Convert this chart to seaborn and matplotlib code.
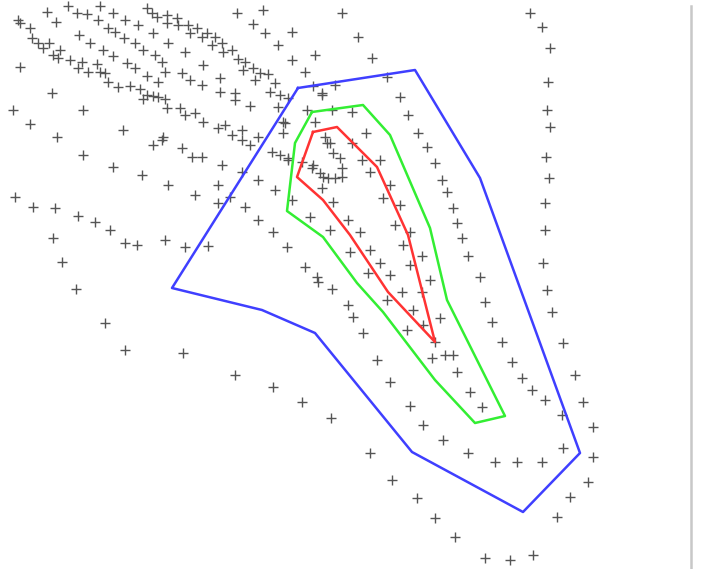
import matplotlib
matplotlib.use("Agg")
import matplotlib.pyplot as plt
import seaborn as sns
import pandas as pd

# scattered '+' samples (x, y in picture units, y grows downward)
pts_x = [68, 100, 47, 77, 87, 113, 147, 152, 167, 18, 20, 56, 98, 125, 157, 138, 167, 30, 108, 115,
         79, 153, 32, 38, 49, 90, 124, 135, 168, 43, 60, 103, 143, 53, 155, 58, 70, 113, 162, 82,
         97, 127, 20, 78, 88, 100, 105, 135, 147, 165, 108, 118, 130, 140, 158, 147, 153, 158, 165, 143,
         167, 52, 13, 83, 30, 123, 57, 163,
         237, 263, 342, 177, 178, 188, 197, 190, 202, 207, 215, 253, 265, 292, 212, 222, 223, 232, 278, 185,
         238, 245, 203, 292, 315, 182, 243, 253, 260, 268, 305, 190, 202, 220, 255, 275, 313, 335, 220, 235,
         235, 270, 280, 322, 250, 180, 185, 195, 288, 278, 307, 203, 218, 225, 242, 258, 285,
         83, 113, 142, 153, 162, 168, 15, 33, 55, 78, 95, 110, 53, 125, 137, 165, 62,
         232, 242, 250, 272, 280, 288, 182, 192, 202, 222, 242, 258, 218, 195, 230, 275, 218, 245, 258, 273,
         287, 185, 208, 305, 317, 292, 310, 330,
         313, 320, 328, 335, 322, 333, 327, 333, 340,
         322, 400, 332, 352, 408, 283, 315, 366, 418, 283, 325, 330, 352, 427, 362, 380, 288, 302, 312, 342,
         435, 370, 323, 342, 442, 390, 447, 383, 400, 453, 348, 395, 457, 360, 410,
         358, 372, 387, 462, 468, 480,
         530, 542, 550, 548, 547, 550, 546, 549, 545, 545, 543, 547,
         403, 350, 370, 422, 380, 410, 318, 368, 390, 430, 332, 402, 422, 387, 348, 413, 353, 440, 407, 423,
         363, 435, 432, 445, 453, 377, 457,
         485, 552, 492, 502, 563, 512, 522, 575, 390, 532, 470, 545, 583, 410, 482, 562, 593, 423, 563, 593,
         443, 468, 495, 517, 542, 370, 588, 392, 570, 417, 557, 435, 455, 485, 510, 533,
         76, 105, 125, 183, 235, 273, 302, 331]
pts_y = [6, 6, 12, 13, 14, 13, 8, 13, 15, 20, 23, 22, 20, 20, 17, 25, 23, 28, 28, 32,
         35, 33, 38, 43, 43, 43, 38, 43, 43, 48, 50, 50, 50, 55, 55, 58, 60, 56, 62, 62,
         64, 63, 67, 68, 72, 72, 73, 68, 76, 72, 82, 87, 86, 89, 82, 95, 96, 97, 99, 99,
         108, 93, 110, 110, 124, 130, 137, 137,
         13, 10, 13, 18, 25, 25, 28, 33, 37, 33, 37, 24, 33, 32, 45, 43, 52, 50, 45, 52,
         59, 62, 65, 60, 55, 73, 70, 68, 73, 74, 72, 80, 85, 78, 80, 83, 86, 85, 92, 93,
         100, 92, 95, 95, 106, 108, 115, 113, 98, 107, 110, 122, 128, 125, 130, 137, 123,
         155, 167, 175, 145, 140, 185, 197, 207, 208, 216, 222, 230, 238, 243, 245, 240, 262,
         135, 140, 145, 152, 155, 160, 148, 157, 157, 165, 172, 180, 185, 195, 197, 190, 203, 207, 220, 232,
         247, 247, 246, 267, 277, 200, 217, 230,
         165, 173, 178, 178, 188, 202, 143, 153, 158,
         93, 97, 110, 112, 115, 122, 122, 133, 133, 133, 137, 143, 143, 147, 160, 160, 158, 162, 168, 168,
         163, 172, 177, 177, 180, 185, 192, 198, 205, 208, 220, 225, 223, 232, 232,
         37, 58, 77, 238, 256, 277,
         13, 27, 48, 82, 110, 127, 157, 178, 203, 230, 263, 290,
         245, 252, 250, 256, 263, 265, 282, 273, 275, 280, 289, 292, 292, 300, 305, 310, 317, 318, 330, 325,
         333, 342, 358, 355, 355, 360, 372,
         302, 312, 322, 342, 343, 362, 378, 375, 382, 390, 392, 400, 402, 406, 407, 415, 427, 425, 448, 457,
         440, 453, 462, 462, 462, 453, 482, 480, 497, 498, 517, 518, 537, 558, 560, 555,
         289, 323, 350, 353, 375, 387, 402, 418]

# contour polygons (outer to inner)
blue_x = [298, 415, 480, 580, 523, 412, 315, 262, 172]
blue_y = [88, 70, 178, 453, 512, 452, 333, 310, 288]
green_x = [312, 363, 390, 430, 447, 505, 475, 435, 383, 357, 323, 287, 295]
green_y = [112, 105, 135, 228, 300, 416, 423, 380, 312, 283, 237, 211, 143]
red_x = [313, 337, 352, 377, 408, 435, 388, 350, 323, 297]
red_y = [132, 127, 142, 167, 235, 342, 292, 235, 200, 177]

frame_x = 691

pts = pd.DataFrame({"x": pts_x, "y": pts_y})

fig = plt.figure(figsize=(7.01, 5.69), dpi=100)
ax = fig.add_axes([0, 0, 1, 1])

sns.scatterplot(data=pts, x="x", y="y", marker="+", s=45, color="#555555",
                linewidth=1.0, ax=ax, legend=False)

for px, py, col in [(blue_x, blue_y, "#3f3fff"), (green_x, green_y, "#33ee33"), (red_x, red_y, "#ff3333")]:
    poly = pd.DataFrame({"x": px + px[:1], "y": py + py[:1]})
    sns.lineplot(data=poly, x="x", y="y", sort=False, estimator=None,
                 color=col, linewidth=1.8, ax=ax)

ax.axvline(frame_x, ymin=0, ymax=0.99, color="#c8c8c8", linewidth=1.8)

ax.set_xlim(0, 701)
ax.set_ylim(569, 0)
ax.axis("off")

fig.savefig("out.png", dpi=100)
